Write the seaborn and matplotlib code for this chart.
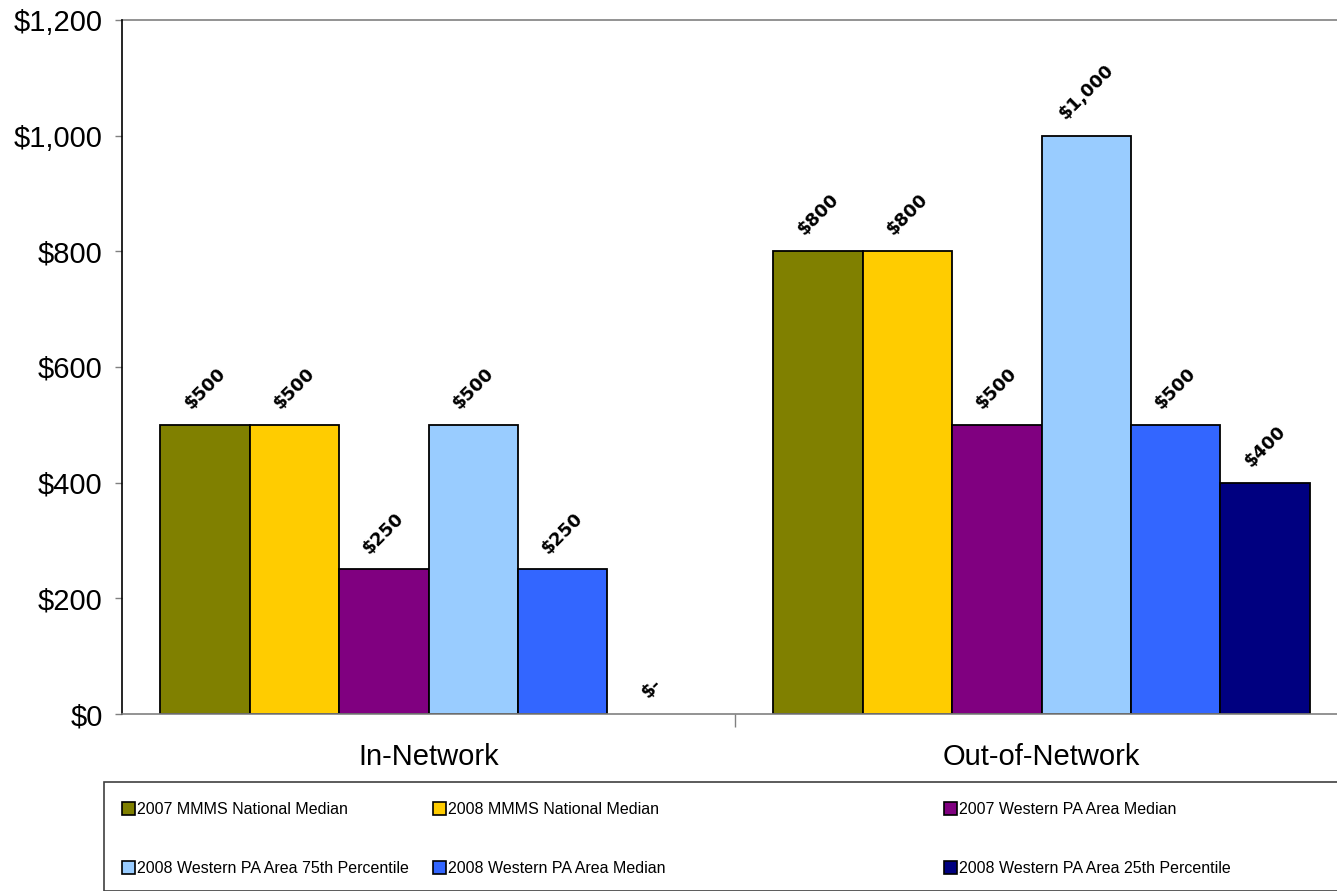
import pandas as pd
import matplotlib.pyplot as plt
import seaborn as sns
from matplotlib.patches import Rectangle
from matplotlib.ticker import FuncFormatter, FixedLocator

# --- dados ---
categorias = ["In-Network", "Out-of-Network"]
series = [
    "2007 MMMS National Median",
    "2008 MMMS National Median",
    "2007 Western PA Area Median",
    "2008 Western PA Area 75th Percentile",
    "2008 Western PA Area Median",
    "2008 Western PA Area 25th Percentile",
]
in_network = [500, 500, 250, 500, 250, 0]
out_network = [800, 800, 500, 1000, 500, 400]
cores = ["#808000", "#FFCC00", "#800080", "#99CCFF", "#3366FF", "#000080"]

rows = []
for s, v1, v2 in zip(series, in_network, out_network):
    rows.append({"cat": categorias[0], "serie": s, "valor": v1})
    rows.append({"cat": categorias[1], "serie": s, "valor": v2})
df = pd.DataFrame(rows)

sns.set_theme(style="white")
plt.rcParams["font.family"] = ["Liberation Sans", "DejaVu Sans"]
plt.rcParams["text.color"] = "black"
plt.rcParams["xtick.labelcolor"] = "black"
plt.rcParams["ytick.labelcolor"] = "black"

fig = plt.figure(figsize=(13.37, 8.91), dpi=100)
ax = fig.add_axes([122 / 1337, 1 - 714 / 891, 1226 / 1337, 694 / 891])

sns.barplot(data=df, x="cat", y="valor", hue="serie", order=categorias,
            hue_order=series, palette=dict(zip(series, cores)),
            width=0.875, gap=0, edgecolor="black", linewidth=1.3,
            saturation=1, errorbar=None, ax=ax)

def fmt_dolar(v):
    return "$-" if v == 0 else f"${v:,.0f}"

for cont in ax.containers:
    vals = [b.get_height() for b in cont]
    for b, v in zip(cont, vals):
        if v == 0:
            b.set_linewidth(0)
    ax.bar_label(cont, labels=[fmt_dolar(v) for v in vals], padding=9,
                 rotation=45, fontsize=13, fontweight="bold", color="black",
                 family="DejaVu Sans")

ax.set_ylim(0, 1200)
ax.set_xlim(-0.5, 1.5)
ax.set_yticks(range(0, 1201, 200))
ax.yaxis.set_major_formatter(FuncFormatter(lambda v, p: f"${v:,.0f}"))
ax.tick_params(axis="y", labelsize=21, length=5, width=1, color="#808080",
               left=True, direction="out", pad=9)
ax.tick_params(axis="x", which="major", labelsize=21, length=0, pad=21)
ax.xaxis.set_minor_locator(FixedLocator([0.5]))
ax.tick_params(axis="x", which="minor", length=9, width=1, color="#808080",
               bottom=True, direction="out")
ax.set_xlabel("")
ax.set_ylabel("")

for lado in ["top", "right"]:
    ax.spines[lado].set_visible(False)
ax.spines["left"].set_color("black")
ax.spines["left"].set_linewidth(1.2)
ax.spines["bottom"].set_color("#808080")
ax.spines["bottom"].set_linewidth(1.2)
ax.axhline(1200, color="#808080", lw=1.2, clip_on=False)

# --- legenda ---
handles, labels = ax.get_legend_handles_labels()
ax.get_legend().remove()
for h in handles:
    h.set_edgecolor("black")
    h.set_linewidth(1.2)

fig.patches.append(Rectangle((104 / 1337, 0), 1.0, (891 - 782) / 891,
                             transform=fig.transFigure, facecolor="white",
                             edgecolor="#404040", lw=1.2))

colunas_x = [122, 433, 944]
for i, x in enumerate(colunas_x):
    idx = [i, i + 3]
    fig.legend([handles[j] for j in idx], [labels[j] for j in idx],
               loc="upper left", bbox_to_anchor=(x / 1337, 1 - 802 / 891),
               frameon=False, fontsize=11.5, handlelength=0.8,
               handleheight=0.9, handletextpad=0.15, labelspacing=2.75,
               borderpad=0, borderaxespad=0)

fig.savefig("out.png", dpi=100)
